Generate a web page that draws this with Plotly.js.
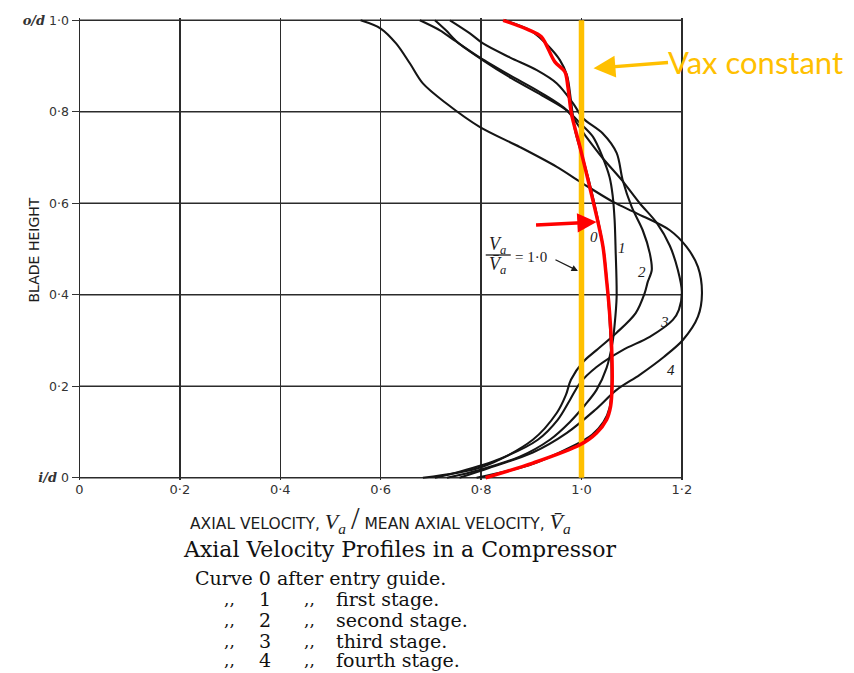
<!DOCTYPE html>
<html>
<head>
<meta charset="utf-8">
<script src="https://cdn.plot.ly/plotly-3.0.1.min.js"></script>
<style>
  html, body { margin: 0; padding: 0; background: #ffffff; }
  #chart { width: 854px; height: 673px; }
</style>
</head>
<body>
<div id="chart"></div>
<script>
// Axial velocity ratio Va / mean Va against blade height (i/d = 0 at root, o/d = 1.0 at tip)
const xTickVals = [0, 0.2, 0.4, 0.6, 0.8, 1.0, 1.2];
const xTickText = ['0', '0·2', '0·4', '0·6', '0·8', '1·0', '1·2'];
const yTickVals = [0, 0.2, 0.4, 0.6, 0.8, 1.0];
const yTickText = [
  '<span style="font-family:\'DejaVu Serif\';font-style:italic;font-weight:bold;font-size:13px">i/d</span> 0',
  '0·2', '0·4', '0·6', '0·8',
  '<span style="font-family:\'DejaVu Serif\';font-style:italic;font-weight:bold;font-size:13px">o/d</span> 1·0'
];

// Curve 0: after entry guide
const curve0X = [0.847, 0.901, 0.933, 0.957, 0.971, 0.979, 0.987, 1.001, 1.017, 1.033, 1.044, 1.052, 1.058, 1.060, 1.056, 1.044, 1.021, 0.977, 0.897, 0.791];
const curve0Y = [1.000, 0.976, 0.945, 0.913, 0.880, 0.825, 0.760, 0.705, 0.640, 0.563, 0.498, 0.410, 0.301, 0.203, 0.153, 0.122, 0.094, 0.066, 0.028, 0.000];

// Curve 1: after first stage
const curve1X = [0.708, 0.730, 0.753, 0.803, 0.861, 0.921, 0.971, 0.999, 1.023, 1.042, 1.056, 1.062, 1.066, 1.068, 1.070, 1.066, 1.062, 1.050, 1.030, 1.007, 0.977, 0.937, 0.877, 0.797, 0.732];
const curve1Y = [1.000, 0.978, 0.952, 0.913, 0.873, 0.836, 0.803, 0.773, 0.745, 0.701, 0.657, 0.618, 0.563, 0.498, 0.395, 0.334, 0.297, 0.240, 0.192, 0.159, 0.122, 0.083, 0.046, 0.017, 0.000];

// Curve 2: after second stage
const curve2X = [0.738, 0.777, 0.803, 0.857, 0.911, 0.951, 0.983, 1.003, 1.042, 1.070, 1.082, 1.100, 1.122, 1.136, 1.140, 1.132, 1.126, 1.108, 1.070, 1.030, 1.003, 0.979, 0.969, 0.951, 0.903, 0.803, 0.684];
const curve2Y = [1.000, 0.972, 0.950, 0.919, 0.891, 0.862, 0.819, 0.786, 0.753, 0.710, 0.651, 0.592, 0.541, 0.491, 0.454, 0.428, 0.404, 0.360, 0.317, 0.279, 0.253, 0.214, 0.181, 0.142, 0.083, 0.024, 0.000];

// Curve 3: after third stage
const curve3X = [0.678, 0.718, 0.747, 0.797, 0.857, 0.917, 0.971, 1.007, 1.042, 1.080, 1.116, 1.150, 1.176, 1.192, 1.200, 1.194, 1.182, 1.136, 1.082, 1.030, 0.997, 0.977, 0.953, 0.913, 0.837, 0.757, 0.708];
const curve3Y = [1.000, 0.978, 0.956, 0.919, 0.880, 0.843, 0.803, 0.749, 0.699, 0.651, 0.600, 0.557, 0.507, 0.454, 0.406, 0.367, 0.345, 0.308, 0.279, 0.242, 0.207, 0.170, 0.127, 0.083, 0.041, 0.013, 0.000];

// Curve 4: after fourth stage
const curve4X = [0.560, 0.600, 0.631, 0.658, 0.684, 0.731, 0.797, 0.877, 0.950, 1.003, 1.063, 1.110, 1.176, 1.209, 1.232, 1.240, 1.232, 1.202, 1.164, 1.116, 1.070, 1.027, 0.971, 0.903, 0.817, 0.757];
const curve4Y = [1.000, 0.982, 0.949, 0.906, 0.862, 0.818, 0.767, 0.723, 0.680, 0.643, 0.603, 0.578, 0.541, 0.505, 0.461, 0.403, 0.352, 0.301, 0.264, 0.225, 0.192, 0.148, 0.098, 0.055, 0.022, 0.000];

// Red overlay traced along curve 0
const tracedX = [0.844, 0.897, 0.920, 0.947, 0.967, 0.973, 0.980, 0.997, 1.015, 1.032, 1.043, 1.050, 1.055, 1.060, 1.061, 1.058, 1.050, 1.030, 0.997, 0.903, 0.809];
const tracedY = [1.000, 0.978, 0.964, 0.909, 0.887, 0.854, 0.796, 0.723, 0.642, 0.563, 0.504, 0.432, 0.374, 0.287, 0.200, 0.156, 0.127, 0.098, 0.072, 0.032, 0.000];

// Uniform axial velocity, Va / mean Va = 1.0
const vaxConstant = 1.0;
const blade = [0, 1];

const curveLabels = ['0', '1', '2', '3', '4'];
const curveLabelX = [1.024, 1.081, 1.121, 1.166, 1.179];
const curveLabelY = [0.526, 0.502, 0.450, 0.341, 0.236];
const stageNames = ['entry guide.', 'first stage.', 'second stage.', 'third stage.', 'fourth stage.'];

// Plot-area geometry in page pixels
const G = { l: 77.49, t: 17.71, w: 634.65, h: 462.58 };
const px = p => (p - G.l) / G.w;
const py = p => (G.t + G.h - p) / G.h;

const ink = '#1c1c1c';
const curveLine = { color: '#151515', width: 2.1, shape: 'spline', smoothing: 0.9 };
const curves = [[curve0X, curve0Y], [curve1X, curve1Y], [curve2X, curve2Y], [curve3X, curve3Y], [curve4X, curve4Y]];

const traces = curves.map((c, i) => ({
  x: c[0], y: c[1], type: 'scatter', mode: 'lines', name: 'Curve ' + curveLabels[i],
  line: curveLine, hoverinfo: 'skip', showlegend: false
}));
traces.push({
  x: [vaxConstant, vaxConstant], y: blade, type: 'scatter', mode: 'lines',
  line: { color: '#FFC000', width: 5.5 }, hoverinfo: 'skip', showlegend: false
});
traces.push({
  x: tracedX, y: tracedY, type: 'scatter', mode: 'lines',
  line: { color: '#FF0000', width: 3.5, shape: 'spline', smoothing: 0.9 }, hoverinfo: 'skip', showlegend: false
});

const gridColor = '#2b2b2b';
const shapes = yTickVals.map(v => ({
  type: 'line', xref: 'x', yref: 'y', x0: xTickVals[0], x1: xTickVals[xTickVals.length - 1], y0: v, y1: v,
  line: { color: gridColor, width: 1.4 }, layer: 'below'
}));
// fraction bar of Va / mean Va
shapes.push({ type: 'line', xref: 'paper', yref: 'paper', x0: px(486), x1: px(511), y0: py(255), y1: py(255), line: { color: ink, width: 1.3 } });

const serif = "'Liberation Serif', 'DejaVu Serif', serif";
const bookSerif = "'DejaVu Serif', 'Liberation Serif', serif";
const sans = "'DejaVu Sans', 'Liberation Sans', sans-serif";

const annotations = [];
// text placed by its centre unless an anchor is given
function note(o) {
  annotations.push(Object.assign({ xanchor: 'center', yanchor: 'middle', showarrow: false }, o));
}

curveLabels.forEach((t, i) => note({
  x: curveLabelX[i], y: curveLabelY[i], xref: 'x', yref: 'y', text: '<i>' + t + '</i>',
  font: { family: serif, size: 15, color: ink }
}));

// Va / mean Va = 1.0 label
note({ xref: 'paper', yref: 'paper', x: px(498), y: py(245), text: '<i>V<sub>a</sub></i>', font: { family: serif, size: 18, color: ink } });
note({ xref: 'paper', yref: 'paper', x: px(498), y: py(266), text: '<i>V\u0304<sub>a</sub></i>', font: { family: serif, size: 18, color: ink } });
note({ xref: 'paper', yref: 'paper', x: px(513), y: py(257), xanchor: 'left', text: '= 1·0', font: { family: serif, size: 15, color: ink } });
note({ xref: 'x', yref: 'y', x: vaxConstant - 0.007, y: 0.452, ax: -24, ay: -12, text: '', showarrow: true, arrowhead: 2, arrowsize: 1, arrowwidth: 1.3, arrowcolor: ink });

// red pointer to curve 0
note({ xref: 'x', yref: 'y', x: 1.030, y: 0.559, ax: -62, ay: 3, text: '', showarrow: true, arrowhead: 2, arrowsize: 1.1, arrowwidth: 3.5, arrowcolor: '#FF0000' });

// Vax constant callout
note({ xref: 'x', yref: 'y', x: vaxConstant + 0.024, y: 0.895, ax: 76, ay: -6, text: '', showarrow: true, arrowhead: 2, arrowsize: 1.25, arrowwidth: 3.5, arrowcolor: '#FFC000' });
note({ xref: 'paper', yref: 'paper', x: px(666), y: py(62), xanchor: 'left', text: 'Vax constant', font: { family: "Lato, 'Open Sans', sans-serif", size: 31, color: '#FFC000' } });

// axis titles
note({ xref: 'paper', yref: 'paper', x: px(35), y: py(250), text: 'BLADE HEIGHT', textangle: -90, font: { family: sans, size: 14, color: ink } });
note({
  xref: 'paper', yref: 'paper', x: px(381), y: py(519),
  text: 'AXIAL VELOCITY, <span style="font-family:\'Liberation Serif\';font-size:22px"><i>V<sub>a</sub></i></span> <span style="font-family:\'Liberation Serif\';font-size:31px">/</span> MEAN AXIAL VELOCITY, <span style="font-family:\'Liberation Serif\';font-size:22px"><i>V\u0304<sub>a</sub></i></span>',
  font: { family: sans, size: 15.5, color: ink }
});

// caption
note({ xref: 'paper', yref: 'paper', x: px(400), y: py(550), text: 'Axial Velocity Profiles in a Compressor', font: { family: bookSerif, size: 22, color: '#111' } });
const rowY = [578, 599, 620, 641, 661];
note({ xref: 'paper', yref: 'paper', x: px(193), y: py(rowY[0]), xanchor: 'left', text: 'Curve ' + curveLabels[0] + ' after ' + stageNames[0], font: { family: bookSerif, size: 19, color: '#111' } });
for (let i = 1; i < curveLabels.length; i++) {
  note({ xref: 'paper', yref: 'paper', x: px(222), y: py(rowY[i]), xanchor: 'left', text: ',,', font: { family: bookSerif, size: 17, color: '#111' } });
  note({ xref: 'paper', yref: 'paper', x: px(265), y: py(rowY[i]), text: curveLabels[i], font: { family: bookSerif, size: 19, color: '#111' } });
  note({ xref: 'paper', yref: 'paper', x: px(302), y: py(rowY[i]), xanchor: 'left', text: ',,', font: { family: bookSerif, size: 17, color: '#111' } });
  note({ xref: 'paper', yref: 'paper', x: px(334), y: py(rowY[i]), xanchor: 'left', text: stageNames[i], font: { family: bookSerif, size: 19, color: '#111' } });
}

const layout = {
  width: 854, height: 673,
  margin: { l: G.l, r: 854 - G.l - G.w, t: G.t, b: 673 - G.t - G.h, pad: 0 },
  paper_bgcolor: '#ffffff', plot_bgcolor: '#ffffff',
  showlegend: false,
  xaxis: {
    range: [-0.005, 1.26], tickvals: xTickVals, ticktext: xTickText,
    showgrid: true, gridcolor: gridColor, gridwidth: 1.4, zeroline: false, showline: false,
    ticks: '', tickfont: { family: sans, size: 13, color: '#333' }, fixedrange: true
  },
  yaxis: {
    range: [-0.005, 1.005], tickvals: yTickVals, ticktext: yTickText,
    anchor: 'free', position: 0.005 / 1.265,
    showgrid: false, zeroline: false, showline: false,
    ticks: 'outside', ticklen: 8, tickwidth: 1.3, tickcolor: '#333',
    tickfont: { family: sans, size: 12.5, color: '#333' }, fixedrange: true
  },
  shapes: shapes,
  annotations: annotations
};

Plotly.newPlot('chart', traces, layout, { staticPlot: true, displayModeBar: false });
</script>
</body>
</html>
